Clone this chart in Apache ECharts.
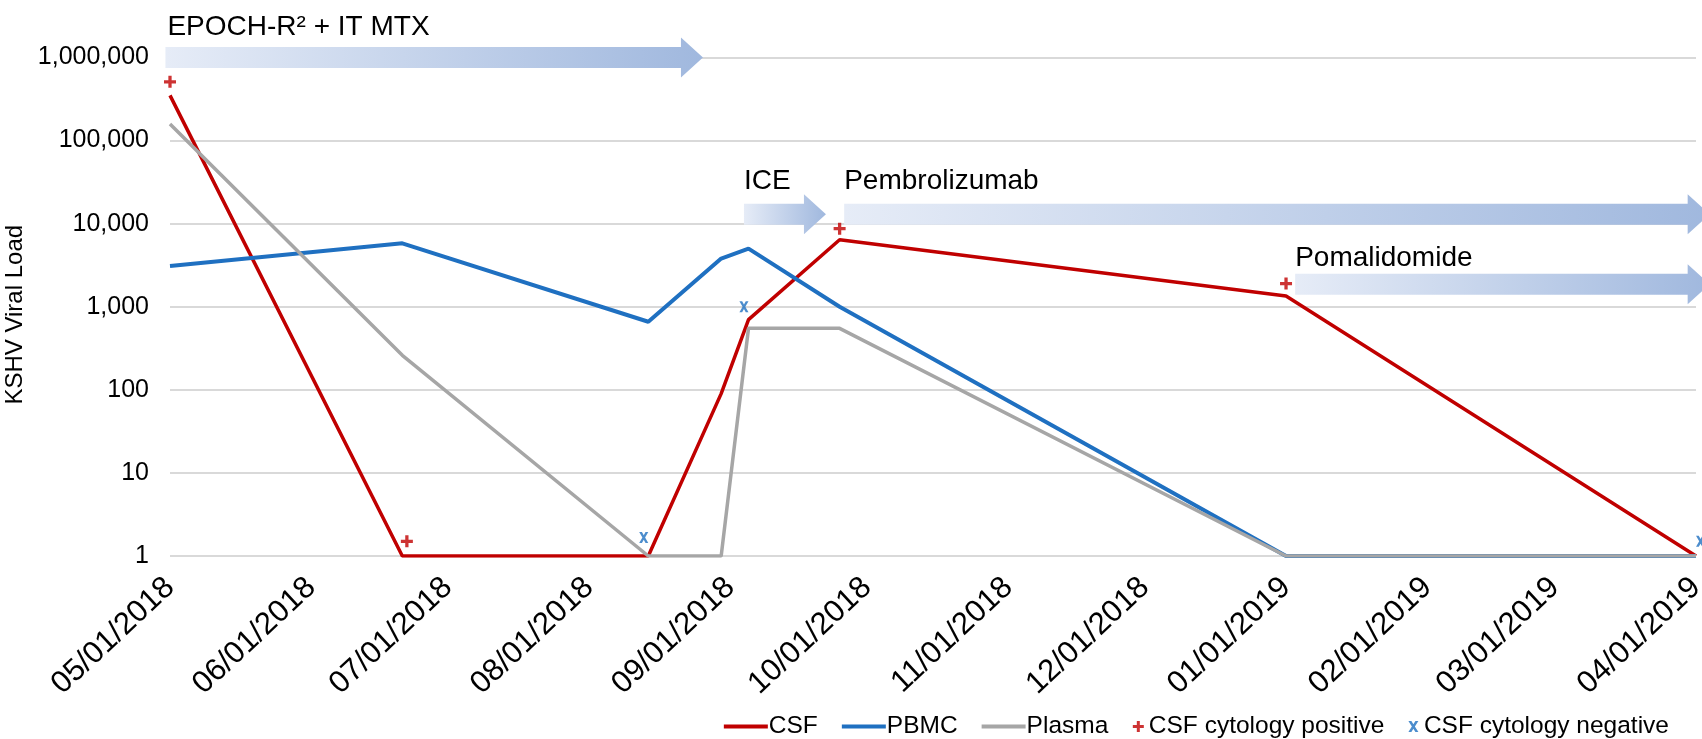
<!DOCTYPE html>
<html><head><meta charset="utf-8">
<script src="https://cdn.jsdelivr.net/npm/echarts@6/dist/echarts.min.js"></script>
<style>html,body{margin:0;padding:0;background:#fff}#c{width:1702px;height:739px}</style>
</head><body><div id="c"></div>
<script>
// ---- data ----
const sampleDates  = ['2018-05-01','2018-06-21','2018-08-14','2018-08-30','2018-09-05','2018-09-25','2019-01-01','2019-04-01'];
const csfValues    = [350000, 1, 1, 90, 700, 6400, 1350, 1];
const pbmcValues   = [3100, 5800, 660, 3800, 5000, 1000, 1, 1];
const plasmaValues = [158000, 260, 1, 1, 550, 550, 1, 1];

const positiveDates  = ['2018-05-01','2018-06-22','2018-09-25','2019-01-01'];
const positiveValues = [510000, 1.5, 8700, 1900];
const negativeDates  = ['2018-08-13','2018-09-04','2019-04-02'];
const negativeValues = [1.67, 1000, 1.5];

const xTickDates = ['2018-05-01','2018-06-01','2018-07-01','2018-08-01','2018-09-01','2018-10-01',
                    '2018-11-01','2018-12-01','2019-01-01','2019-02-01','2019-03-01','2019-04-01'];
const yTickValues = [1, 10, 100, 1000, 10000, 100000, 1000000];

const treatmentNames  = ['EPOCH-R² + IT MTX', 'ICE', 'Pembrolizumab', 'Pomalidomide'];
const treatmentStart  = ['2018-04-30','2018-09-04','2018-09-26','2019-01-03'];
const treatmentEnd    = ['2018-08-26','2018-09-22','2019-04-04','2019-04-04'];
const treatmentLevel  = [1000000, 13000, 13000, 1870];

// ---- helpers ----
const FONT = "'Liberation Sans', Arial, Helvetica, sans-serif";
function toTime(s){ const p = s.split('-').map(Number); return Date.UTC(p[0], p[1]-1, p[2]); }
function pad(n){ return (n < 10 ? '0' : '') + n; }
function fmtDate(v){ const d = new Date(v); return pad(d.getUTCMonth()+1) + '/' + pad(d.getUTCDate()) + '/' + d.getUTCFullYear(); }
function commas(v){ return String(Math.round(v)).replace(/\B(?=(\d{3})+(?!\d))/g, ','); }
function pairs(dates, vals){ return dates.map((d,i) => [toTime(d), vals[i]]); }
function textW(t, size){ const c = document.createElement('canvas').getContext('2d'); c.font = size + 'px ' + FONT; return c.measureText(t).width; }

const PLUS  = 'path://M4,0H7V4H11V7H7V11H4V7H0V4H4Z';
const XMARK = 'path://M0,0H3L5,3.2L7,0H10L6.5,5.5L10,11H7L5,7.8L3,11H0L3.5,5.5Z';

const RED = '#c00000', BLUE = '#1f70c1', GRAY = '#a6a6a6';
const LEG_FS = 24.5;
const LEG_GAP = 24;
const LEG_RIGHT = 28;

const leg2W = 11 + 5 + textW('CSF cytology positive', LEG_FS) + LEG_GAP + 11 + 5 + textW('CSF cytology negative', LEG_FS);

const chart = echarts.init(document.getElementById('c'), null, {renderer: 'canvas'});

const option = {
  animation: false,
  backgroundColor: '#ffffff',
  textStyle: {fontFamily: FONT},
  grid: {left: 170, right: 6, top: 57.5, bottom: 183, containLabel: false, outerBoundsMode: 'none'},
  xAxis: {
    type: 'value',
    min: toTime(xTickDates[0]),
    max: toTime(xTickDates[xTickDates.length-1]),
    axisLine: {show: false},
    axisTick: {show: false},
    splitLine: {show: false},
    axisLabel: {
      customValues: xTickDates.map(toTime),
      rotate: 43, margin: 27,
      fontSize: 31, color: '#000', fontFamily: FONT,
      formatter: v => fmtDate(v),
      showMinLabel: true, showMaxLabel: true, hideOverlap: false
    }
  },
  yAxis: {
    type: 'log', logBase: 10, min: 1, max: 1000000, splitNumber: 6,
    name: 'KSHV Viral Load', nameLocation: 'middle', nameRotate: 90, nameGap: 134,
    nameTextStyle: {fontSize: 24, color: '#000', fontFamily: FONT, padding: [0, 16, 0, 0]},
    axisLine: {show: false},
    axisTick: {show: false},
    splitLine: {show: true, lineStyle: {color: '#d9d9d9', width: 2}},
    axisLabel: {fontSize: 25, color: '#000', margin: 21, fontFamily: FONT, formatter: v => commas(v)}
  },
  legend: [
    {
      data: [{name: 'CSF', icon: 'rect'}, {name: 'PBMC', icon: 'rect'}, {name: 'Plasma', icon: 'rect'}],
      top: 709, right: LEG_RIGHT + leg2W + LEG_GAP,
      itemWidth: 44, itemHeight: 4, itemGap: LEG_GAP,
      textStyle: {fontSize: LEG_FS, color: '#000', fontFamily: FONT, padding: [0, 0, 0, -4]}
    },
    {
      data: ['CSF cytology positive', 'CSF cytology negative'],
      top: 709, right: LEG_RIGHT,
      itemWidth: 11, itemHeight: 11, itemGap: LEG_GAP,
      textStyle: {fontSize: LEG_FS, color: '#000', fontFamily: FONT}
    }
  ],
  series: [
    {name: 'CSF', type: 'line', data: pairs(sampleDates, csfValues), symbol: 'none',
     lineStyle: {color: RED, width: 3.5}, itemStyle: {color: RED}, z: 2},
    {name: 'PBMC', type: 'line', data: pairs(sampleDates, pbmcValues), symbol: 'none',
     lineStyle: {color: BLUE, width: 4}, itemStyle: {color: BLUE}, z: 2},
    {name: 'Plasma', type: 'line', data: pairs(sampleDates, plasmaValues), symbol: 'none',
     lineStyle: {color: GRAY, width: 3.5}, itemStyle: {color: GRAY}, z: 2},
    {name: 'CSF cytology positive', type: 'scatter', data: pairs(positiveDates, positiveValues),
     symbol: PLUS, symbolSize: 12, symbolKeepAspect: true, itemStyle: {color: RED}, z: 4, clip: false},
    {name: 'CSF cytology negative', type: 'scatter', data: pairs(negativeDates, negativeValues),
     symbol: XMARK, symbolSize: [10, 11], symbolKeepAspect: true, itemStyle: {color: BLUE}, z: 4, clip: false}
  ]
};
chart.setOption(option);

// ---- treatment arrows (positioned through the chart's own scales) ----
const labelLift = [30, 33, 33, 26];
const graphics = [];
treatmentNames.forEach((name, i) => {
  const p0 = chart.convertToPixel({gridIndex: 0}, [toTime(treatmentStart[i]), treatmentLevel[i]]);
  const p1 = chart.convertToPixel({gridIndex: 0}, [toTime(treatmentEnd[i]), treatmentLevel[i]]);
  const x0 = p0[0], x1 = p1[0], cy = p0[1];
  const bh = 21, hh = 40, hl = 22;
  const xh = x1 - hl;
  graphics.push({
    type: 'polygon', z: 20, silent: true,
    shape: {points: [[x0, cy-bh/2],[xh, cy-bh/2],[xh, cy-hh/2],[x1, cy],[xh, cy+hh/2],[xh, cy+bh/2],[x0, cy+bh/2]]},
    style: {fill: {type: 'linear', x: 0, y: 0, x2: 1, y2: 0,
      colorStops: [{offset: 0, color: '#e6ecf7'}, {offset: 1, color: '#a0b8de'}]}}
  });
  graphics.push({
    type: 'text', z: 21, silent: true,
    style: {text: name, x: x0 + (i === 0 ? 2 : 0), y: cy - labelLift[i], fontSize: 28, fontFamily: FONT,
      fill: '#000', align: 'left', verticalAlign: 'middle'}
  });
});
chart.setOption({graphic: graphics});
</script>
</body></html>
